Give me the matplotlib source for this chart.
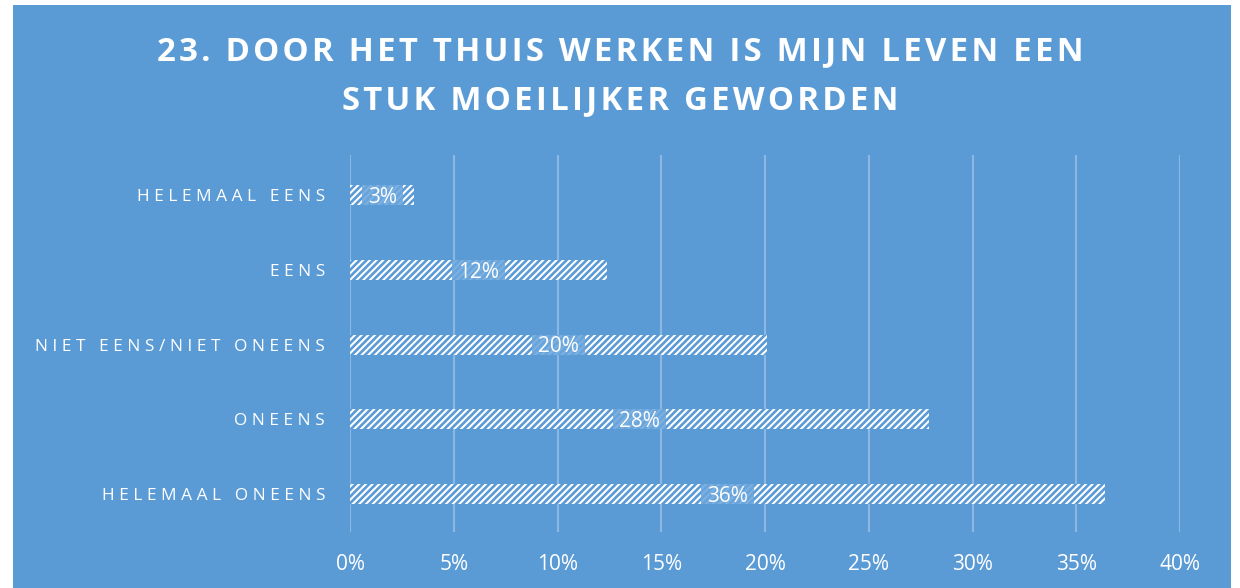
import matplotlib.pyplot as plt
from matplotlib.patches import Rectangle

plt.rcParams['font.family'] = ['Open Sans', 'DejaVu Sans']
plt.rcParams['hatch.linewidth'] = 1.9

categories = ['HELEMAAL ONEENS', 'ONEENS', 'NIET EENS/NIET ONEENS', 'EENS', 'HELEMAAL EENS']
values = [36.4, 27.9, 20.1, 12.4, 3.1]
labels = ['36%', '28%', '20%', '12%', '3%']
ticks = [0, 5, 10, 15, 20, 25, 30, 35, 40]
title_lines = ['23. DOOR HET THUIS WERKEN IS MIJN LEVEN EEN', 'STUK MOEILIJKER GEWORDEN']

blue = '#5B9BD5'
W, H = 1240, 588
bar_h = 0.27


def spaced(s, gap='\u200a'):
    # imitate the letter spacing of the original
    return gap.join(s)


fig = plt.figure(figsize=(W / 100, H / 100), dpi=100)
fig.patch.set_facecolor('white')
fig.patches.append(Rectangle((13 / W, 0), (1231 - 13) / W, (H - 5) / H,
                             transform=fig.transFigure, facecolor=blue,
                             edgecolor='none', zorder=-10))

ax = fig.add_axes([350 / W, 1 - 532 / H, (1180 - 350) / W, (532 - 155) / H])
ax.set_facecolor('none')

ypos = list(range(len(categories)))
ax.barh(ypos, values, height=bar_h, color='white', edgecolor=blue,
        linewidth=0, hatch='/////', zorder=3)

ax.set_xlim(0, 40)
ax.set_ylim(-0.51, 4.54)

texts = []
for y, v, lab in zip(ypos, values, labels):
    t = ax.text(v / 2, y - 0.03, lab, ha='center', va='center', color='white',
                fontsize=15, zorder=5)
    texts.append((t, y))

# label boxes: as tall as the bar, a bit wider than the text
fig.canvas.draw()
r = fig.canvas.get_renderer()
inv = ax.transData.inverted()
for t, y in texts:
    bb = t.get_window_extent(r)
    x0 = inv.transform((bb.x0 - 6, 0))[0]
    x1 = inv.transform((bb.x1 + 6, 0))[0]
    ax.add_patch(Rectangle((x0, y - bar_h / 2), x1 - x0, bar_h,
                           facecolor='#6aa6dc', edgecolor='none', alpha=0.88,
                           zorder=4))

ax.set_xticks(ticks)
ax.set_xticklabels([f'{t}%' for t in ticks], color='white', fontsize=15)
ax.set_yticks(ypos)
ax.set_yticklabels([spaced(c, '\u2009\u200a') for c in categories], color='white',
                   fontsize=12.4)
ax.tick_params(length=0, pad=16, axis='x')
ax.tick_params(length=0, pad=18, axis='y')
ax.grid(axis='x', color='#8ab8e3', linewidth=1.5, zorder=1)
for s in ax.spines.values():
    s.set_visible(False)

fig.text(620 / W, 1 - 52 / H, spaced(title_lines[0]), ha='center', va='center',
         color='white', fontsize=23.7, fontweight='bold')
fig.text(620 / W, 1 - 101 / H, spaced(title_lines[1]), ha='center', va='center',
         color='white', fontsize=23.7, fontweight='bold')

fig.savefig('out.png', dpi=100, facecolor=fig.get_facecolor())
